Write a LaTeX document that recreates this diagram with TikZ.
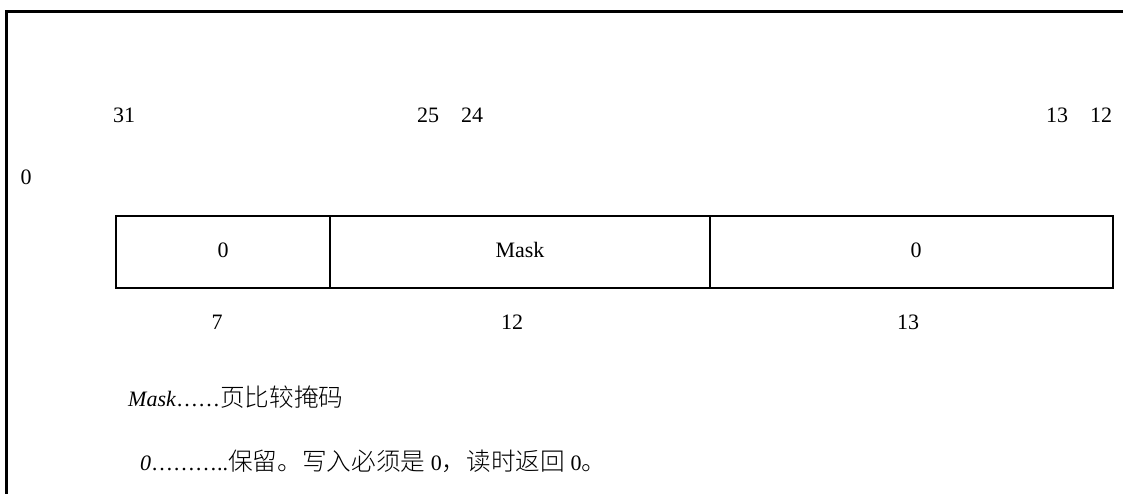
\documentclass[tikz,border=0pt]{standalone}
\usepackage{fontspec}
\setmainfont{Liberation Serif}
\newfontfamily\cjk[Scale=1.12,UprightFont={* Light}]{Noto Sans CJK SC}
\begin{document}
\begin{tikzpicture}[x=1pt,y=-1pt,
  lbl/.style={inner sep=0pt,anchor=base,font=\fontsize{22}{26}\selectfont},
  note/.style={inner sep=0pt,anchor=base west,font=\fontsize{22}{26}\selectfont},
  cell/.style={draw,line width=2pt,minimum height=72pt,inner sep=0pt}]
\useasboundingbox (0,0) rectangle (1123,493);
% frame (open at right and bottom)
\coordinate (ftr) at (1125,11.5);
\coordinate (ftl) at (6.5,11.5);
\coordinate (fbl) at (6.5,495);
\draw[line width=2.5pt] (ftr) -- (ftl) -- (fbl);
% bit numbers above
\node[lbl] (b31) at (124,122) {31};
\node[lbl] (b25) at (428,122) {25};
\node[lbl] (b24) at (472,122) {24};
\node[lbl] (b13) at (1057,122) {13};
\node[lbl] (b12) at (1101,122) {12};
\node[lbl] (b0) at (26,184) {0};
% register cells
\node[cell,minimum width=214pt] (c1) at (223,252) {};
\node[cell,minimum width=380pt] (c2) at (520,252) {};
\node[cell,minimum width=403pt] (c3) at (911.5,252) {};
\node[lbl] (t1) at (223,257) {0};
\node[lbl] (t2) at (520,257) {Mask};
\node[lbl] (t3) at (916,257) {0};
% widths below
\node[lbl] (w1) at (217,329) {7};
\node[lbl] (w2) at (512,329) {12};
\node[lbl] (w3) at (908,329) {13};
% notes
\node[note] (n1) at (128,406) {\textit{Mask}……{\cjk 页比较掩码}};
\node[note] (n2) at (140,470) {\textit{0}………..{\cjk 保留。写入必须是}~0{\cjk ，读时返回}~0{\cjk 。}};
\end{tikzpicture}
\end{document}
